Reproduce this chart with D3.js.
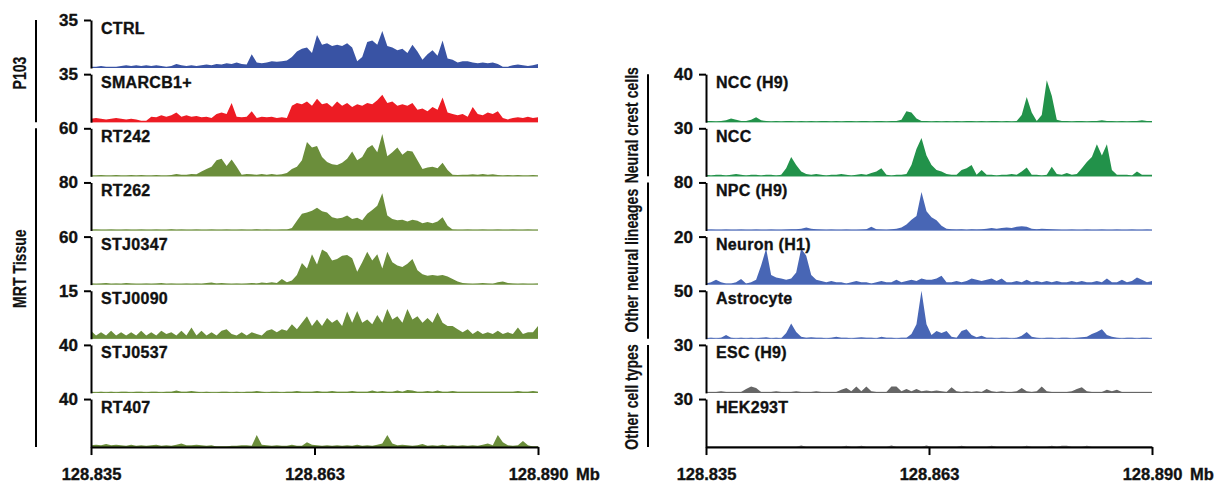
<!DOCTYPE html>
<html>
<head>
<meta charset="utf-8">
<script src="https://cdn.jsdelivr.net/npm/d3@7"></script>
<style>
  body { margin: 0; background: #fff; }
  svg { display: block; font-family: "Liberation Sans", Arial, sans-serif; }
</style>
</head>
<body>
<div id="chart"></div>
<script>
// Genomic window (Mb) and x ticks
const xDomain = [128.835, 128.890];
const xTicks = [128.835, 128.8625, 128.890];
const xTickLabels = ['128.835', '128.863', '128.890'];

// Track names and y-axis maxima
const leftNames = ['CTRL', 'SMARCB1+', 'RT242', 'RT262', 'STJ0347', 'STJ0090', 'STJ0537', 'RT407'];
const leftMax = [35, 35, 60, 80, 60, 15, 40, 40];
const rightNames = ['NCC (H9)', 'NCC', 'NPC (H9)', 'Neuron (H1)', 'Astrocyte', 'ESC (H9)', 'HEK293T'];
const rightMax = [40, 30, 80, 20, 50, 30, 30];

// Coverage per bin, evenly spread over the window
const ctrl = [1,1,1.5,1,1,1,1.5,2,1.5,2, 1.5,2,1.5,2,1.5,1,1.5,3,2,1.5, 2,1.5,2,2.5,2,3,2.5,3.5,3,4,
  3,2.5,10,4,3.5,4,5,4.5,5,5.5, 8,12,14,15,11,24,17,18,16,17, 16,18,15,5,8,19,20,17,27,16,
  15,13,14,11,17,12,6,10,13,9, 20,7,6,4,5,5,4,3.5,4,3.5, 4,3,1,1,2,2.5,2,1.5,2,3];
const smarcb1 = [2.5,3,2.5,2,2.5,3,2.5,2,2.5,2, 1,1,4,3.5,5,4,5,7,4,5, 4,4.5,3.5,4,3,6,7,6,14,4,
  3.5,4,8,3,4,3.5,4,3,3.5,3, 12,14,13,15,12,17,13,14,11,15, 12,14,11,13,12,14,13,16,20,14,
  15,12,13,12,14,9,10,8,11,9, 18,7,6,5,6,4,11,6,5,7, 6,8,3,2,3,3.5,3,4,3,3.5];
const rt242 = [1,1,1.5,1,1,1.5,1,1,1.5,1, 1.5,1,1,1.5,1,1,1.5,3,2,2, 3,2.5,6,9,12,20,22,13,21,12,
  2,3,2.5,2,3,2,3,2,2.5,4, 9,12,20,43,36,38,24,18,15,14, 17,22,31,20,24,35,39,30,53,25,
  30,36,27,32,31,20,9,11,12,10, 17,8,2,1.5,2,2,2.5,2,3,2, 2.5,1.5,1,1.5,1,1.5,1,1,1.5,1];
const rt262 = [1,1.5,1,1,1.5,1,1,1.5,1,1, 1.5,1,1,1.5,1,1,2,1,1.5,1, 1,1.5,1,1,1.5,1,1,1.5,1,1,
  1.5,1,1,2,1,1.5,1,1,1.5,1.5, 4,16,28,30,33,38,32,30,22,20, 21,25,19,21,17,28,34,41,62,25,
  19,17,18,15,18,16,12,14,12,15, 22,8,1.5,1,1,1.5,1,1,1.5,1, 1,1.5,1,1,1.5,1,1,1.5,1,1];
const stj0347 = [1.5,1,1.5,2,1,1.5,1,2,1.5,1, 1,1.5,1,1.5,2,1,1.5,1,1,1.5, 1,1.5,1,2,2.5,1.5,2,1.5,1,1.5,
  1,1.5,2,1.5,2.5,2,3,2,7,3, 5,12,27,20,38,25,44,40,30,32, 36,37,33,16,28,41,30,38,20,41,
  28,24,22,26,32,18,13,11,12,11, 12,10,7,4,2,1.5,1,1.5,2,1.5, 1,3,4,2,1.5,1,1.5,1,1,1.5];
const stj0090 = [2.5,1,2,1,2.5,1,2,1,2,1, 2.5,1,2,1,2.5,1.5,2,1,2.5,1, 3.5,1,2.5,1,2,1,2.5,3,1.5,1,
  2,1,2,1.5,1,2.5,3,2,3,2.5, 4.5,3,5,7,4,6,4,6.5,5,6, 4,8.5,5,8.7,5,6,4.5,7.4,5,9.3,
  6,7,5,9.3,6,7,5,6.5,5,8.2, 5,4,4,3,2,3,1.5,2.5,1.5,2, 1.5,2.5,1.5,2,1.5,3.5,1.5,2,2,4];
const stj0537 = [1,0.5,1,0.5,1,0.5,1,1,0.5,1, 1,0.5,1,1,0.5,1,1,2,1,1, 1.5,1,0.5,1,0.5,0.5,1,1,0.5,1,
  0.5,1,1,1.5,1,0.5,1,1,0.5,1, 1,1.5,1,1,1,1.5,1,1,1.5,1, 1,1,1.5,1,1,1,2,1,1.5,1,
  1,2,1,2.5,2,1,1,1.5,1,2, 1,1,1.5,1,1,1,1,1,1,1, 1,1,1,1,1,1.5,1,1,1.5,1];
const rt407 = [1.5,2,1.5,2.5,1.5,2,1.5,1,2,1, 1.5,1,1.5,2,1,1.5,1,2,3,1.5, 1.5,2,1.5,1,1.5,0.5,0.5,0.5,1,1,
  1.5,1.5,1,10,2,1.5,1,1.5,1,1, 2,1,1,4,2,1.5,1,1.5,1,1.5, 1,1.5,1,2,1,1.5,1,2,3,10,
  3,1.5,2,1.5,1,1.5,2.5,1,1.5,1, 2,1,1.5,1,1.5,1,1.5,1,2,3, 1.5,10,4,1.5,1,1.5,5,1.5,0.5,0.5];

const nccH9 = [1,1,0.5,1,1.5,3,2,1,1,2, 4,1.5,1,0.5,1,0.5,1,1,0.5,1, 0.5,1,0.5,1,1,0.5,1,0.5,1,1,
  0.5,1,1,0.5,1,1,0.5,1,1,2, 9,8,3,1,1,0.5,1,0.5,1,0.5, 1,0.5,1,1,0.5,1,0.5,1,1,0.5,
  1,0.5,1,6,21,8,1,6,35,22, 2,1,1,0.5,1,1,0.5,1,1,1.5, 1,1,0.5,1,0.5,1,1,1.5,1,1];
const ncc = [1,0.5,1,1,0.5,1,1.5,1,0.5,1, 1,0.5,1,1,0.5,1,5,12,7,3, 1.5,1,1.5,1,0.5,1,1,1.5,1,0.5,
  1,1.5,1,2,3,5,1,0.5,1,1, 1.5,7,17,24,13,7,4,3,1.5,1, 1,4,5,7,1,4,1,1,0.5,1,
  1,1.5,1,3,5.5,1,1,0.5,1,6, 1.5,1,2,1,1.5,5,9,12,20,13, 20,4,1,1,1,0.5,3,1,1,1];
const npcH9 = [1,1.5,1,1,1.5,1,1,1.5,1,1, 1.5,1,1,1.5,1,1,1.5,2,2,3, 5,3,2,1.5,1,1.5,1,1,1.5,1,
  1,1.5,2,6,2,1.5,1,2,3,5, 10,18,24,64,32,22,17,8,3,2, 1.5,2,1,2,1.5,2,3,4,3,4,
  5,4,6,7,6,3,2,3,2.5,2, 1.5,1,1,1.5,1,1,1.5,1,1,1.5, 1,1,1.5,1,1,1.5,1,1,1.5,1];
const neuronH1 = [0.5,1,2,1,0.5,0.5,1,2.3,0.5,1, 2,8,15,4,3,2.5,2,2.5,5,15, 12,4,2,1.5,1,1.5,1,1,0.5,1,
  1.5,1,1,0.5,1,1.5,1,1,2,1, 1.5,2,1.5,2.5,2,2,2.5,3.7,1,1, 1.5,1,1.5,2.5,2,1.5,2,2.5,1.5,2.5,
  1,1,1.5,1,2,1,1.5,1,1.5,1, 1.5,1,1,1.5,1,1.5,1,1,1.5,1, 2.5,1,1,2,1,1.5,3,2,1,1.5];
const astrocyte = [0.5,1,0.5,1,4,1,0.5,1,0.5,1, 0.5,1,1.5,0.5,1,0.5,6,16,7,2, 1,1.5,1,1,0.5,1,2,1,1,0.5,
  1,1.5,1,1,0.5,2,1,1,0.5,1, 1,5,15,50,15,4,8,6,8,2, 1,8,10,4,1.5,3,1,1,0.5,1,
  1,0.5,1,3,7,2,1,0.5,1,1, 0.5,1,1,0.5,1,1.5,2,5,7,10, 4,2,1,0.5,1,1,0.5,1,1,0.5];
const escH9 = [0.5,0.5,0.5,1,0.5,0.5,0.5,0.5,2.5,4, 3,0.5,0.5,0.5,1,0.5,0.5,0.5,1,0.5, 0.5,0.5,1,0.5,0.5,0.5,0.5,2,3,1,
  4,1,4,1,0.5,0.5,0.5,4,4,1, 2.5,1,2.5,1,1.5,1,1.5,1,0.5,3.5, 1,0.5,1,0.5,1,0.5,2.5,1,0.5,1,
  0.5,0.5,1,3,1,0.5,1,4,1,0.5, 0.5,0.5,0.5,1,2.5,3.5,1,0.5,0.5,0.5, 2,1,2,0.5,0.5,0.5,0.5,0.5,0.5,0.5];
const hek293t = [0.2,0.2,0.2,0.2,0.2,0.2,0.2,0.2,0.2,0.2, 0.2,0.2,0.2,0.2,0.2,0.2,0.2,0.2,0.2,1, 0.2,0.2,0.2,0.2,0.2,0.2,0.2,0.2,0.8,0.2,
  0.2,0.8,0.2,0.2,0.2,0.2,0.2,1,0.2,0.2, 0.2,0.2,0.2,0.2,1,0.2,0.2,0.2,0.2,0.2, 0.2,0.8,0.2,0.2,0.2,0.2,0.2,0.8,0.2,0.2,
  0.2,0.2,0.2,0.2,0.8,0.2,0.2,0.2,0.2,0.8, 0.2,0.8,0.8,0.2,0.2,0.2,0.8,0.2,0.2,0.2, 0.2,0.2,0.2,0.2,0.2,0.2,0.2,0.2,0.2,0.2];

const leftValues = [ctrl, smarcb1, rt242, rt262, stj0347, stj0090, stj0537, rt407];
const rightValues = [nccH9, ncc, npcH9, neuronH1, astrocyte, escH9, hek293t];

// Group brackets (track index ranges)
const leftGroups = [
  { label: 'P103', first: 0, last: 1, shift: 2 },
  { label: 'MRT Tissue', first: 2, last: 7, shift: -19 }
];
const rightGroups = [
  { label: 'Neural crest cells', first: 0, last: 1, shift: 0 },
  { label: 'Other neural lineages', first: 2, last: 4, shift: 0 },
  { label: 'Other cell types', first: 5, last: 6, shift: 1 }
];

// Styles
const BLUE_DARK = '#3953a4', RED = '#ed1c24', OLIVE = '#6b8e3b';
const GREEN = '#22924a', BLUE = '#4866b5', GRAY = '#666666';
const leftColors = [BLUE_DARK, RED, OLIVE, OLIVE, OLIVE, OLIVE, OLIVE, OLIVE];
const rightColors = [GREEN, GREEN, BLUE, BLUE, BLUE, GRAY, GRAY];

const W = 1220, H = 484;
const TOP = 20, PITCH = 54.15, TH = 48;

const svg = d3.select('#chart').append('svg')
  .attr('width', W)
  .attr('height', H);

// bold text a touch heavier, like the figure
function heavy(sel, size) {
  return sel.attr('fill', '#111')
    .attr('stroke', '#111')
    .attr('stroke-width', 0.35)
    .style('font-size', size)
    .style('font-weight', 'bold')
    .style('font-family', '"Liberation Sans", Arial, sans-serif');
}

function drawPanel(opts) {
  const { x0, x1, firstSlot, names, maxes, values, colors, groups, groupX, lineX } = opts;
  const x = d3.scaleLinear().domain(xDomain).range([x0, x1]);
  const panel = svg.append('g');

  names.forEach((name, k) => {
    const slot = firstSlot + k;
    const top = TOP + slot * PITCH;
    const base = top + TH;
    const y = d3.scaleLinear().domain([0, maxes[k]]).range([base, top]);
    const vals = values[k];
    const step = (xDomain[1] - xDomain[0]) / (vals.length - 1);

    // thin baseline
    panel.append('line')
      .attr('x1', x0).attr('x2', x1)
      .attr('y1', base - 0.5).attr('y2', base - 0.5)
      .attr('stroke', colors[k])
      .attr('stroke-opacity', 0.6)
      .attr('stroke-width', 1.2);

    const area = d3.area()
      .x((d, i) => x(xDomain[0] + i * step))
      .y0(base)
      .y1(d => y(d));

    panel.append('path')
      .datum(vals)
      .attr('d', area)
      .attr('fill', colors[k]);

    // bracket axis with max value
    const ax = panel.append('g')
      .attr('transform', `translate(${x0},0)`)
      .call(d3.axisLeft(y).tickValues([maxes[k]]).tickSize(7).tickSizeOuter(0).tickPadding(6));
    ax.select('.domain').attr('stroke', '#000').attr('stroke-width', 2);
    ax.selectAll('.tick line').attr('stroke', '#000').attr('stroke-width', 2);
    heavy(ax.selectAll('.tick text'), '17px');

    heavy(panel.append('text'), '16px')
      .attr('x', x0 + 10)
      .attr('y', top + 13.5)
      .style('letter-spacing', '0.3px')
      .text(name);
  });

  // genomic axis
  const axisY = TOP + (firstSlot + names.length - 1) * PITCH + TH;
  const xa = panel.append('g')
    .attr('transform', `translate(0,${axisY})`)
    .call(d3.axisBottom(x).tickValues(xTicks).tickFormat((d, i) => xTickLabels[i])
      .tickSize(8).tickSizeOuter(0).tickPadding(13));
  xa.select('.domain').attr('stroke', '#000').attr('stroke-width', 2);
  xa.selectAll('.tick line').attr('stroke', '#000').attr('stroke-width', 2);
  heavy(xa.selectAll('.tick text'), '16.5px');

  heavy(panel.append('text'), '16.5px')
    .attr('x', x1 + 38)
    .attr('y', axisY + 8 + 13 + 0.71 * 16.5)
    .text('Mb');

  // group brackets
  groups.forEach(g => {
    const gTop = TOP + (firstSlot + g.first) * PITCH;
    const gBot = TOP + (firstSlot + g.last) * PITCH + TH;
    panel.append('line')
      .attr('x1', lineX).attr('x2', lineX)
      .attr('y1', gTop).attr('y2', gBot)
      .attr('stroke', '#000')
      .attr('stroke-width', 2);
    const cy = (gTop + gBot) / 2 + g.shift;
    const t = heavy(panel.append('text'), '18px')
      .attr('transform', `translate(${groupX},${cy}) rotate(-90)`)
      .attr('text-anchor', 'middle')
      .attr('dy', '0.36em')
      .attr('stroke-width', 0.2)
      .text(g.label);
    const len = t.node().getComputedTextLength();
    t.attr('textLength', len * 0.78).attr('lengthAdjust', 'spacingAndGlyphs');
  });
}

drawPanel({
  x0: 91, x1: 538, firstSlot: 0,
  names: leftNames, maxes: leftMax, values: leftValues, colors: leftColors,
  groups: leftGroups, groupX: 20, lineX: 36
});

drawPanel({
  x0: 706, x1: 1152, firstSlot: 1,
  names: rightNames, maxes: rightMax, values: rightValues, colors: rightColors,
  groups: rightGroups, groupX: 632, lineX: 648
});
</script>
</body>
</html>
